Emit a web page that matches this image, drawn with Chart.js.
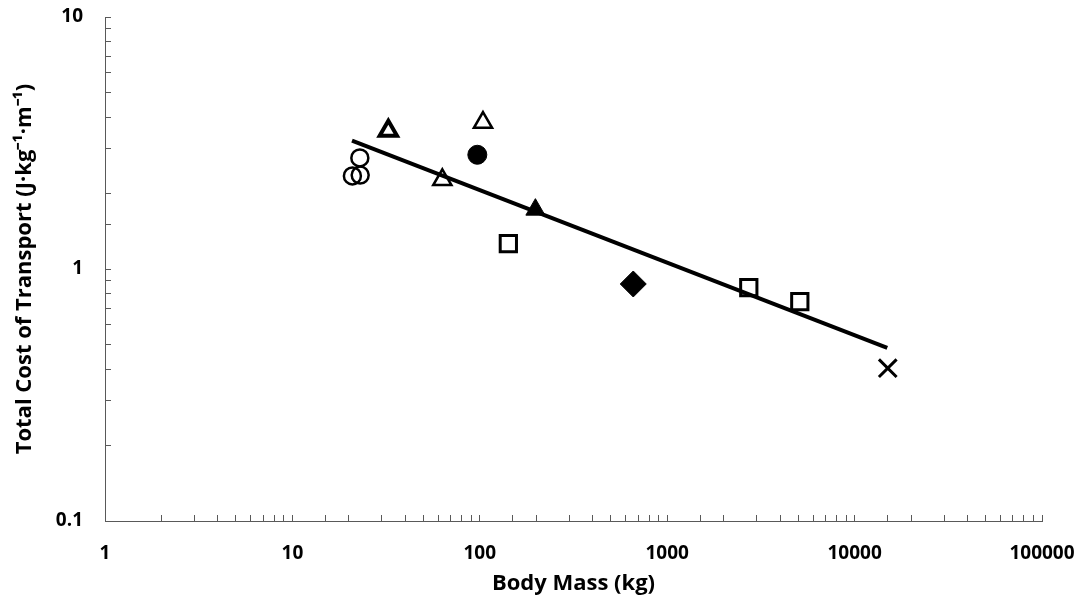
<!DOCTYPE html>
<html>
<head>
<meta charset="utf-8">
<script src="https://cdn.jsdelivr.net/npm/chart.js@4"></script>
<style>
  html, body { margin: 0; padding: 0; background: #fff; }
  #wrap { width: 1083px; height: 603px; }
</style>
</head>
<body>
<div id="wrap"><canvas id="costChart" width="1083" height="603"></canvas></div>
<script>
// body mass (kg) and total cost of transport (J/kg/m)
const openCircleMass = [20.9, 23.0, 22.9];
const openCircleCost = [2.34, 2.36, 2.76];
const boldTriangleMass = [32.5];
const boldTriangleCost = [3.54];
const openTriangleMass = [63.1, 104];
const openTriangleCost = [2.26, 3.81];
const filledCircleMass = [97];
const filledCircleCost = [2.84];
const filledTriangleMass = [198];
const filledTriangleCost = [1.72];
const openSquareMass = [142, 2725, 5100];
const openSquareCost = [1.26, 0.844, 0.743];
const diamondMass = [659];
const diamondCost = [0.872];
const crossMass = [15030];
const crossCost = [0.404];
// power-law fit, drawn between its two end points
const fitMass = [20.8, 14940];
const fitCost = [3.23, 0.486];

const xTickLabels = ['1', '10', '100', '1000', '10000', '100000'];
const yTickLabels = ['0.1', '1', '10'];

const pts = (xs, ys) => xs.map((x, i) => ({ x: x, y: ys[i] }));
const isDecade = v => Math.abs(Math.log10(v) - Math.round(Math.log10(v))) < 1e-9;

const ink = '#000';
const axisGrey = '#595959';
const tickFont = { family: 'Open Sans', size: 19, weight: 'bold' };
const titleFont = { family: 'Open Sans', size: 22, weight: 'bold' };

function marker(data, style, radius, filled, width) {
  return {
    data: data,
    pointStyle: style,
    pointRadius: radius,
    pointHoverRadius: radius,
    pointBorderWidth: width,
    pointBorderColor: ink,
    pointBackgroundColor: filled ? ink : 'rgba(0,0,0,0)',
    showLine: false,
    order: 0
  };
}

const datasets = [
  marker(pts(openCircleMass, openCircleCost), 'circle', 8.5, false, 2.5),
  marker(pts(boldTriangleMass, boldTriangleCost), 'triangle', 10, false, 4),
  marker(pts(openTriangleMass, openTriangleCost), 'triangle', 10.5, false, 2.5),
  marker(pts(filledCircleMass, filledCircleCost), 'circle', 9.5, true, 1),
  marker(pts(filledTriangleMass, filledTriangleCost), 'triangle', 11, true, 1),
  marker(pts(openSquareMass, openSquareCost), 'rect', 11.5, false, 3),
  marker(pts(diamondMass, diamondCost), 'rectRot', 13, true, 1),
  marker(pts(crossMass, crossCost), 'crossRot', 12.5, false, 3),
  {
    data: pts(fitMass, fitCost),
    showLine: true,
    borderColor: ink,
    borderWidth: 4,
    pointRadius: 0,
    pointHoverRadius: 0,
    fill: false,
    order: 1
  }
];

new Chart(document.getElementById('costChart'), {
  type: 'scatter',
  data: { datasets: datasets },
  options: {
    responsive: false,
    animation: false,
    devicePixelRatio: 1,
    layout: { padding: { top: 17, right: 41, left: 0, bottom: 0 } },
    plugins: { legend: { display: false }, tooltip: { enabled: false } },
    scales: {
      x: {
        type: 'logarithmic',
        min: 1,
        max: 100000,
        // fixed box; drop the label overhang padding so the plot area stays put
        afterFit: s => { s.height = 82; s.paddingLeft = 0; s.paddingRight = 0; },
        border: { display: true, color: axisGrey, width: 1 },
        grid: { drawOnChartArea: false, drawTicks: true, tickLength: -6, tickColor: axisGrey, tickWidth: 1 },
        ticks: {
          autoSkip: false,
          maxRotation: 0,
          padding: 27,
          color: ink,
          font: tickFont,
          callback: v => isDecade(v) ? xTickLabels[Math.round(Math.log10(v))] : ''
        },
        title: {
          display: true,
          text: 'Body Mass (kg)',
          color: ink,
          font: titleFont,
          padding: { top: 0, bottom: 6 }
        }
      },
      y: {
        type: 'logarithmic',
        min: 0.1,
        max: 10,
        afterFit: s => { s.width = 105; s.paddingTop = 0; s.paddingBottom = 0; },
        border: { display: true, color: axisGrey, width: 1 },
        grid: { drawOnChartArea: false, drawTicks: true, tickLength: -6, tickColor: axisGrey, tickWidth: 1 },
        ticks: {
          autoSkip: false,
          padding: 28,
          color: ink,
          font: tickFont,
          callback: v => isDecade(v) ? yTickLabels[Math.round(Math.log10(v)) + 1] : ''
        },
        title: {
          display: true,
          text: 'Total Cost of Transport (J·kg⁻¹·m⁻¹)',
          color: ink,
          font: titleFont,
          padding: { top: 12, bottom: 0 }
        }
      }
    }
  }
});
</script>
</body>
</html>
